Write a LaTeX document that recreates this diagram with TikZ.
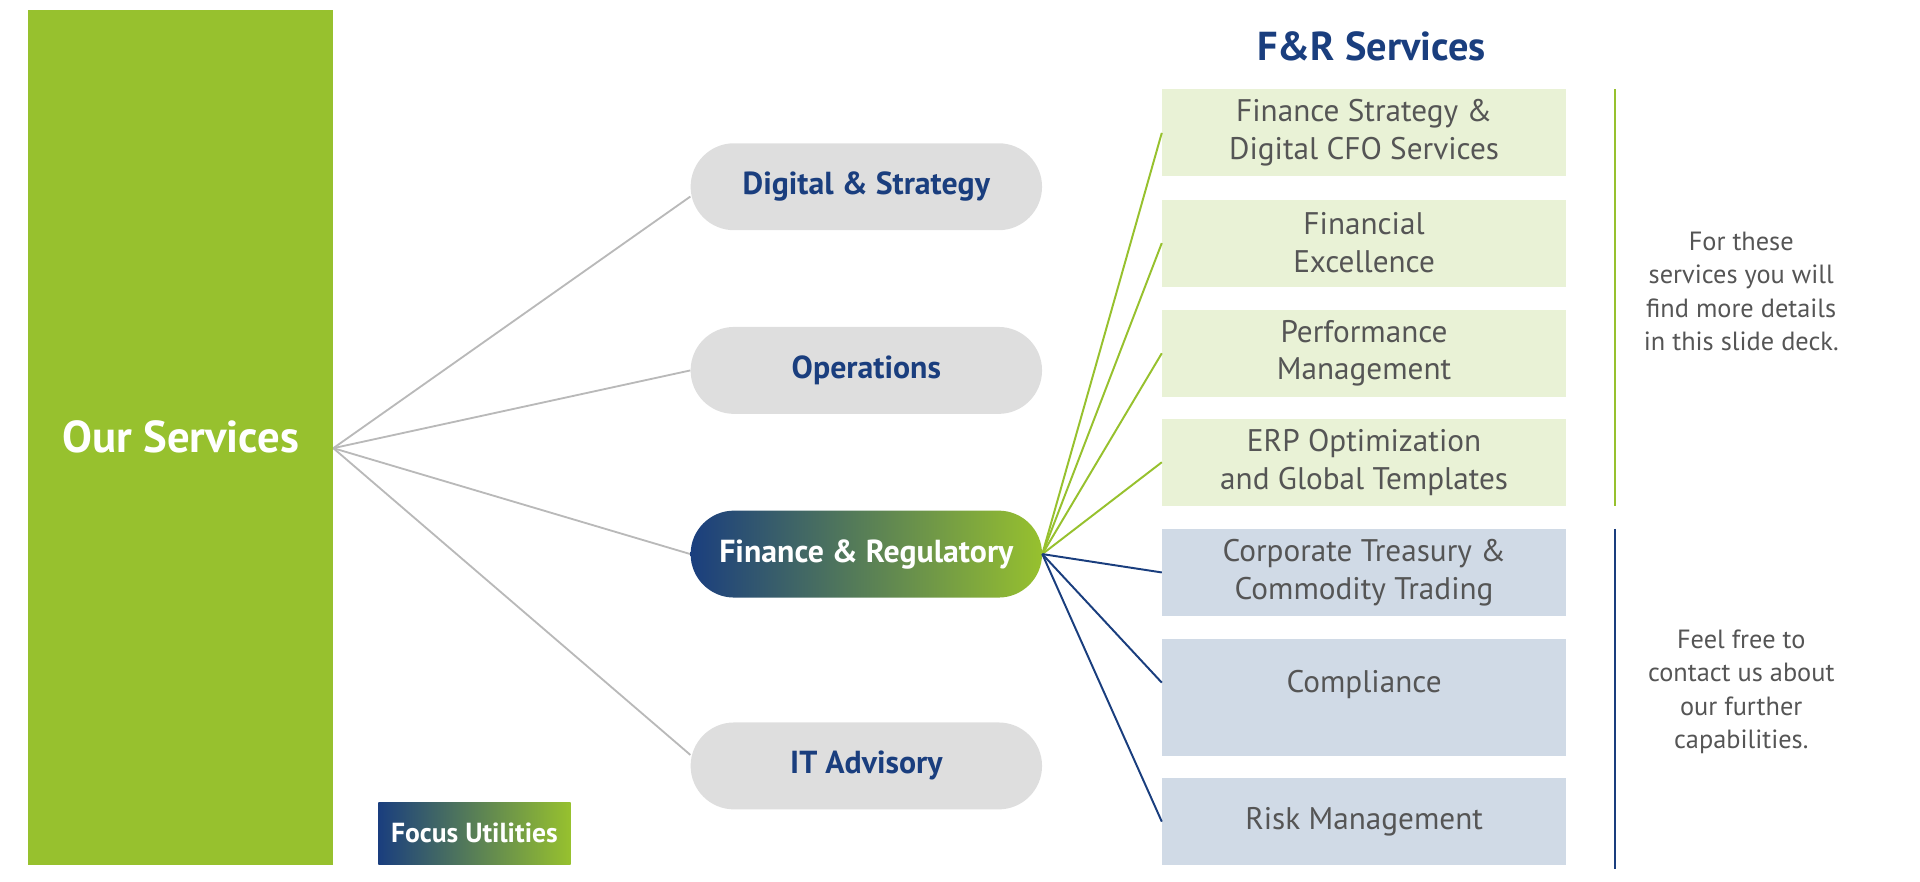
\documentclass[tikz,border=0pt]{standalone}
\usepackage{fontspec}
\setmainfont{PT Sans}
\usetikzlibrary{shapes.misc,backgrounds}
\definecolor{ingreen}{RGB}{151,193,46}
\definecolor{inblue}{RGB}{26,62,126}
\definecolor{pillgray}{RGB}{222,222,222}
\definecolor{lightgreen}{RGB}{233,242,214}
\definecolor{lightblue}{RGB}{208,218,230}
\definecolor{textgray}{RGB}{85,85,85}
\definecolor{linegray}{RGB}{185,185,185}
\tikzset{
  pill/.style={rounded rectangle, fill=pillgray, minimum width=287pt, minimum height=71pt, inner sep=0pt, text=inblue, font=\bfseries\fontsize{26}{30}\selectfont},
  gradpill/.style={pill, fill=none, left color=inblue, right color=ingreen, text=white},
  gbox/.style={rectangle, fill=lightgreen, minimum width=330pt, minimum height=71pt, inner sep=0pt, align=center, text=textgray, font=\fontsize{25.5}{31}\selectfont},
  bbox/.style={gbox, fill=lightblue},
  sidetext/.style={align=center, text=textgray, font=\fontsize{21.5}{27}\selectfont},
  grayline/.style={draw=linegray, line width=1.5pt},
  greenline/.style={draw=ingreen, line width=1.6pt},
  blueline/.style={draw=inblue, line width=1.6pt},
}
\begin{document}
\begin{tikzpicture}[x=1pt,y=-1pt]
\useasboundingbox (0,0) rectangle (1568,720);

% main block
\node[fill=ingreen, minimum width=249pt, minimum height=698pt, inner sep=0pt, text=white, font=\bfseries\fontsize{36.5}{40}\selectfont] (our) at (147.5,357) {Our Services};
\coordinate (fan) at ([yshift=-9pt]our.east);

% pills
\node[pill] (ds) at (707.5,152.5) {Digital \& Strategy};
\node[pill] (op) at (707.5,302.5) {Operations};
\node[gradpill] (fr) at (707.5,452.5) {Finance \& Regulatory};
\node[pill] (it) at (707.5,625.5) {IT Advisory};

\begin{scope}[on background layer]
\draw[grayline] (fan) -- ([yshift=-8pt]ds.west);
\draw[grayline] (fan) -- (op.west);
\draw[grayline] (fan) -- (fr.west);
\draw[grayline] (fan) -- ([yshift=9pt]it.west);
\end{scope}

% focus utilities
\node[rectangle, left color=inblue, right color=ingreen, minimum width=157pt, minimum height=51pt, inner sep=0pt, text=white, font=\bfseries\fontsize{22.5}{26}\selectfont] (fu) at (387.5,680.5) {Focus Utilities};

% title
\node[text=inblue, font=\bfseries\fontsize{33}{38}\selectfont] (title) at (1120,38) {F\&R Services};

% service boxes
\node[gbox] (b1) at (1114,108.5) {Finance Strategy \&\\Digital CFO Services};
\node[gbox] (b2) at (1114,198.5) {Financial\\Excellence};
\node[gbox] (b3) at (1114,288.5) {Performance\\Management};
\node[gbox] (b4) at (1114,377.5) {ERP Optimization\\and Global Templates};
\node[bbox] (b5) at (1114,467.5) {Corporate Treasury \&\\Commodity Trading};
\node[bbox, minimum height=95pt] (b6) at (1114,569.5) {Compliance\\[-6pt]\phantom{C}};
\node[bbox] (b7) at (1114,671) {Risk Management};

\coordinate (frE) at (fr.east);
\draw[greenline] (frE) -- (b1.west);
\draw[greenline] (frE) -- (b2.west);
\draw[greenline] (frE) -- (b3.west);
\draw[greenline] (frE) -- (b4.west);
\draw[blueline] (frE) -- (b5.west);
\draw[blueline] (frE) -- ([yshift=12pt]b6.west);
\draw[blueline] (frE) -- (b7.west);

% side brackets
\coordinate (gt) at (1319,73);
\coordinate (gb) at (1319,413);
\coordinate (bt) at (1319,432);
\coordinate (bb) at (1319,710);
\draw[greenline] (gt) -- (gb);
\draw[blueline] (bt) -- (bb);

\node[sidetext] (t1) at (1422,238) {For these\\services you will\\find more details\\in this slide deck.};
\node[sidetext] (t2) at (1422,565) {Feel free to\\contact us about\\our further\\capabilities.};
\end{tikzpicture}
\end{document}
